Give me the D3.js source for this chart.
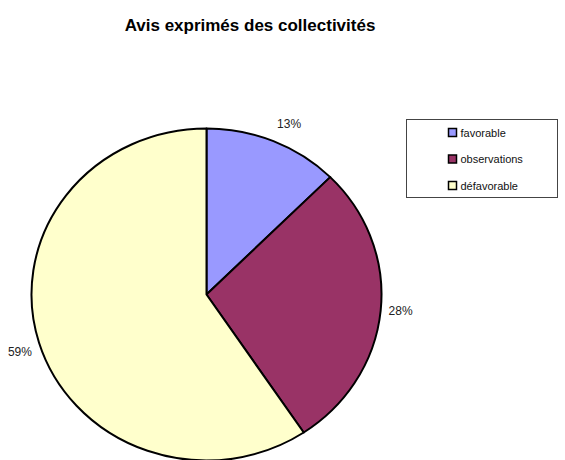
<!DOCTYPE html>
<html>
<head>
<meta charset="utf-8">
<script src="https://cdn.jsdelivr.net/npm/d3@7"></script>
<style>
  body { margin: 0; background: #fff; }
  text { font-family: "Liberation Sans", Arial, sans-serif; }
</style>
</head>
<body>
<div id="chart"></div>
<script>
const categories = ["favorable", "observations", "défavorable"];
const counts = [4, 9, 19];
const colors = ["#9999FF", "#993366", "#FFFFCC"];
const title = "Avis exprimés des collectivités";

const width = 565, height = 460;
const cx = 206.5, cy = 294.5, rx = 175, ry = 166;

const svg = d3.select("#chart").append("svg")
    .attr("width", width)
    .attr("height", height);

svg.append("text")
  .attr("x", 250)
  .attr("y", 31)
  .attr("text-anchor", "middle")
  .style("font-weight", "bold")
  .style("font-size", "17px")
  .text(title);

const total = d3.sum(counts);
const pie = d3.pie().sort(null).value(d => d.value);
const slices = pie(categories.map((c, i) => ({name: c, value: counts[i], color: colors[i]})));

const arc = d3.arc().innerRadius(0).outerRadius(ry);

// slightly elliptical pie, like the original
const gPie = svg.append("g")
  .attr("transform", "translate(" + cx + "," + cy + ") scale(" + (rx / ry) + ",1)");

gPie.selectAll("path")
    .data(slices)
  .enter()
    .append("path")
    .attr("d", arc)
    .style("fill", d => d.data.color)
    .style("stroke", "#000")
    .style("stroke-width", 2)
    .attr("vector-effect", "non-scaling-stroke")
    .style("stroke-linejoin", "round");

// percentage labels outside the pie
const k = 20;
const midAngle = d => (d.startAngle + d.endAngle) / 2;
svg.selectAll(".pct")
    .data(slices)
  .enter()
    .append("text")
    .attr("class", "pct")
    .attr("x", d => {
      const s = Math.sin(midAngle(d));
      return cx + (rx + k) * s + (Math.abs(s) < 0.5 ? 8 : 0);
    })
    .attr("y", d => {
      const a = midAngle(d), s = Math.sin(a);
      const nudge = Math.abs(s) > 0.9 ? -3 * Math.sign(s) : 0;
      return cy - (ry + k) * Math.cos(a) + nudge + 1;
    })
    .attr("text-anchor", "middle")
    .attr("dominant-baseline", "central")
    .style("font-size", "12px")
    .style("fill", "#222")
    .text(d => Math.round(d.value / total * 100) + "%");

// legend
const legend = svg.append("g");
legend.append("rect")
  .attr("x", 406.5).attr("y", 119.5)
  .attr("width", 151).attr("height", 78)
  .style("fill", "#fff")
  .style("stroke", "#444")
  .style("stroke-width", 1);

const rowY = d3.scalePoint().domain(categories).range([132.5, 185.5]);

legend.selectAll(".legend-swatch")
    .data(slices)
  .enter()
    .append("rect")
    .attr("x", 448.5)
    .attr("y", d => rowY(d.data.name) - 4)
    .attr("width", 8)
    .attr("height", 8)
    .style("fill", d => d.data.color)
    .style("stroke", "#000")
    .style("stroke-width", 1.5);

legend.selectAll(".legend-text")
    .data(slices)
  .enter()
    .append("text")
    .attr("x", 460.5)
    .attr("y", d => rowY(d.data.name))
    .attr("dominant-baseline", "central")
    .style("font-size", "11px")
    .style("fill", "#111")
    .text(d => d.data.name);
</script>
</body>
</html>
